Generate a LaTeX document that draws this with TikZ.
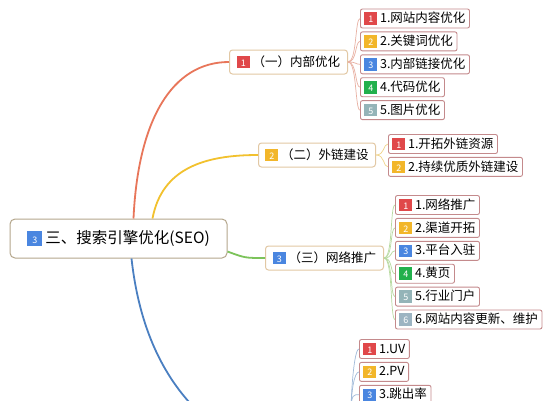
\documentclass[tikz,border=0pt]{standalone}
\usepackage{fontspec}
\setmainfont{Noto Sans CJK SC}
\usetikzlibrary{positioning}

\definecolor{bred}{HTML}{E0484A}
\definecolor{byellow}{HTML}{F2B62A}
\definecolor{bblue}{HTML}{4A86E0}
\definecolor{bgreen}{HTML}{22B04C}
\definecolor{bgrey}{HTML}{94B4B8}
\definecolor{bgreyb}{HTML}{9CB4C2}
\definecolor{rootline}{HTML}{B4A68C}
\definecolor{branchline}{HTML}{E2C8A4}
\definecolor{childline}{HTML}{C48A8C}

\newcommand\badge[2]{{\setlength\fboxsep{1pt}\colorbox{#1}{\rule[-0.1em]{0pt}{0.85em}\makebox[0.85em]{\color{white}\fontsize{9}{9}\selectfont#2}}}\hspace{3pt}}

\tikzset{
  rootbox/.style={draw=rootline,line width=1pt,rounded corners=5pt,fill=white,
    minimum width=217pt,minimum height=39pt,font=\fontsize{15.5}{15.5}\selectfont},
  branchbox/.style={draw=branchline,line width=1pt,rounded corners=3pt,fill=white,
    minimum height=24pt,inner xsep=6pt,anchor=west,font=\fontsize{12.5}{12.5}\selectfont},
  childbox/.style={draw=childline,line width=0.9pt,rounded corners=2pt,fill=white,
    minimum height=19pt,inner xsep=4pt,inner ysep=1pt,anchor=west,font=\fontsize{12.5}{12.5}\selectfont},
  mainedge/.style={line width=1.8pt},
  fanedge/.style={line width=0.7pt}
}

\begin{document}
\begin{tikzpicture}[x=1pt,y=-1pt]
\clip (0,0) rectangle (556,400);
\fill[white] (0,0) rectangle (556,400);

% root
\node[rootbox] (root) at (118.5,238.5) {\badge{bblue}{3}三、搜索引擎优化(SEO)};

% branches
\node[branchbox,minimum width=118pt] (b1) at (229,62) {\badge{bred}{1}（一）内部优化};
\node[branchbox,minimum width=117pt] (b2) at (258,155) {\badge{byellow}{2}（二）外链建设};
\node[branchbox,minimum width=118pt] (b3) at (265,258) {\badge{bblue}{3}（三）网络推广};
\coordinate (b4) at (205,418);
\coordinate (b4e) at (351,413);

% main edges
\draw[mainedge,color={rgb,255:red,232;green,118;blue,90}] ([xshift=15pt]root.north) .. controls (138,120) and (172,62) .. (b1.west);
\draw[mainedge,color={rgb,255:red,242;green,193;blue,46}] ([xshift=34pt]root.north) .. controls (162,168) and (205,155) .. (b2.west);
\draw[mainedge,color={rgb,255:red,124;green,195;blue,90}] ([yshift=-13pt]root.east) .. controls (245,258) .. (b3.west);
\draw[mainedge,color={rgb,255:red,74;green,127;blue,193}] ([xshift=13pt]root.south) .. controls (140,335) and (168,385) .. (b4);

% (一) children
\node[childbox] (c11) at (360,18.5) {\badge{bred}{1}1.网站内容优化};
\node[childbox,below=3pt of c11.south west,anchor=north west] (c12) {\badge{byellow}{2}2.关键词优化};
\node[childbox,below=3pt of c12.south west,anchor=north west] (c13) {\badge{bblue}{3}3.内部链接优化};
\node[childbox,below=3pt of c13.south west,anchor=north west] (c14) {\badge{bgreen}{4}4.代码优化};
\node[childbox,below=3pt of c14.south west,anchor=north west] (c15) {\badge{bgrey}{5}5.图片优化};

% (二) children
\node[childbox] (c21) at (388,144) {\badge{bred}{1}1.开拓外链资源};
\node[childbox,below=3pt of c21.south west,anchor=north west] (c22) {\badge{byellow}{2}2.持续优质外链建设};

% (三) children
\node[childbox] (c31) at (395,205) {\badge{bred}{1}1.网络推广};
\node[childbox,below=3pt of c31.south west,anchor=north west] (c32) {\badge{byellow}{2}2.渠道开拓};
\node[childbox,below=3pt of c32.south west,anchor=north west] (c33) {\badge{bblue}{3}3.平台入驻};
\node[childbox,below=3pt of c33.south west,anchor=north west] (c34) {\badge{bgreen}{4}4.黄页};
\node[childbox,below=3pt of c34.south west,anchor=north west] (c35) {\badge{bgrey}{5}5.行业门户};
\node[childbox,below=3pt of c35.south west,anchor=north west] (c36) {\badge{bgreyb}{6}6.网站内容更新、维护};

% (四) children
\node[childbox] (c41) at (359,349) {\badge{bred}{1}1.UV};
\node[childbox,below=3pt of c41.south west,anchor=north west] (c42) {\badge{byellow}{2}2.PV};
\node[childbox,below=3pt of c42.south west,anchor=north west] (c43) {\badge{bblue}{3}3.跳出率};

% fans
\foreach \c in {c11,c12,c13,c14,c15}
  \draw[fanedge,color={rgb,255:red,232;green,176;blue,162}] (b1.east) .. controls +(9,0) and +(-5,0) .. (\c.west);
\foreach \c in {c21,c22}
  \draw[fanedge,color={rgb,255:red,240;green,212;blue,140}] (b2.east) .. controls +(9,0) and +(-5,0) .. (\c.west);
\foreach \c in {c31,c32,c33,c34,c35,c36}
  \draw[fanedge,color={rgb,255:red,184;green,218;blue,160}] (b3.east) .. controls +(9,0) and +(-5,0) .. (\c.west);
\foreach \c in {c41,c42,c43}
  \draw[fanedge,color={rgb,255:red,160;green,186;blue,218}] (b4e) .. controls +(0,-20) and +(-5,0) .. (\c.west);
\end{tikzpicture}
\end{document}
